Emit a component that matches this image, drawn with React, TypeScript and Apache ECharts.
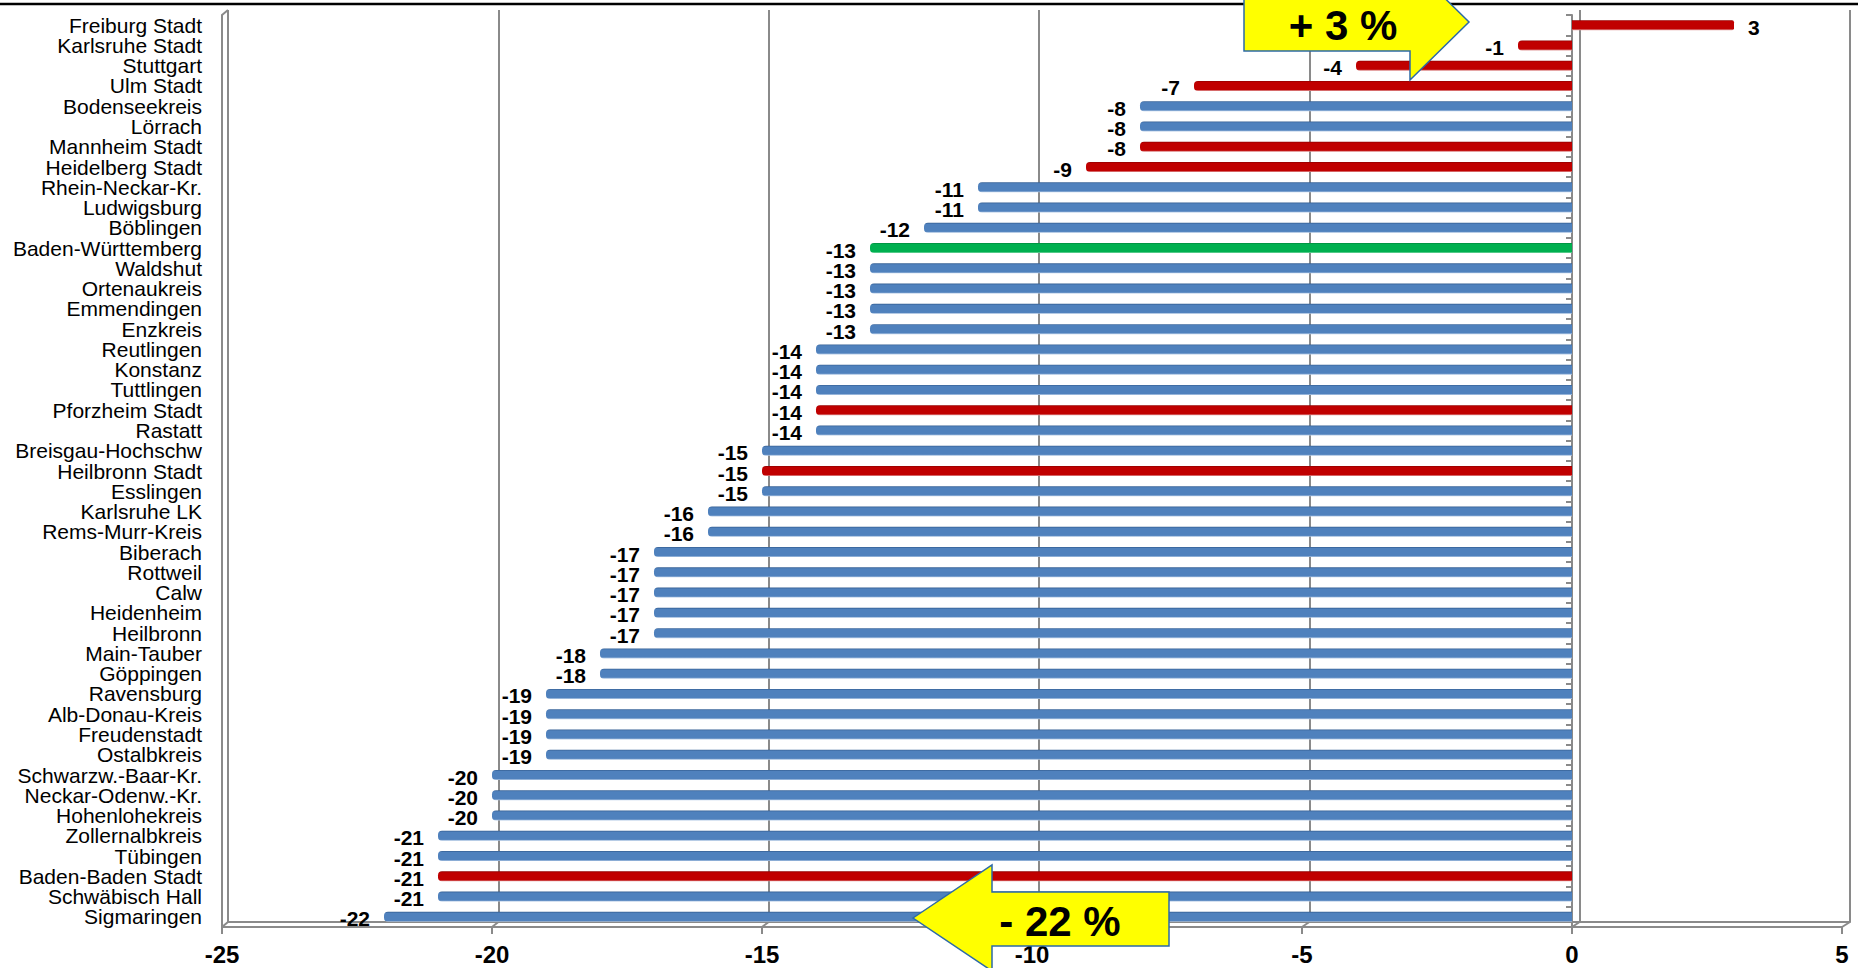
import React, { useEffect, useRef } from "react";
import * as echarts from "echarts";

// Districts (top to bottom) and their change in percent
const districts = [
  "Freiburg Stadt", "Karlsruhe Stadt", "Stuttgart", "Ulm Stadt", "Bodenseekreis",
  "Lörrach", "Mannheim Stadt", "Heidelberg Stadt", "Rhein-Neckar-Kr.", "Ludwigsburg",
  "Böblingen", "Baden-Württemberg", "Waldshut", "Ortenaukreis", "Emmendingen",
  "Enzkreis", "Reutlingen", "Konstanz", "Tuttlingen", "Pforzheim Stadt",
  "Rastatt", "Breisgau-Hochschw", "Heilbronn Stadt", "Esslingen", "Karlsruhe LK",
  "Rems-Murr-Kreis", "Biberach", "Rottweil", "Calw", "Heidenheim",
  "Heilbronn", "Main-Tauber", "Göppingen", "Ravensburg", "Alb-Donau-Kreis",
  "Freudenstadt", "Ostalbkreis", "Schwarzw.-Baar-Kr.", "Neckar-Odenw.-Kr.", "Hohenlohekreis",
  "Zollernalbkreis", "Tübingen", "Baden-Baden Stadt", "Schwäbisch Hall", "Sigmaringen",
];

const changes = [
  3, -1, -4, -7, -8,
  -8, -8, -9, -11, -11,
  -12, -13, -13, -13, -13,
  -13, -14, -14, -14, -14,
  -14, -15, -15, -15, -16,
  -16, -17, -17, -17, -17,
  -17, -18, -18, -19, -19,
  -19, -19, -20, -20, -20,
  -21, -21, -21, -21, -22,
];

// Urban districts (Stadtkreise) are highlighted in red, the state total in green
const cityDistricts = [
  "Freiburg Stadt", "Karlsruhe Stadt", "Stuttgart", "Ulm Stadt", "Mannheim Stadt",
  "Heidelberg Stadt", "Pforzheim Stadt", "Heilbronn Stadt", "Baden-Baden Stadt",
];
const stateTotal = "Baden-Württemberg";

const axisMin = -25;
const axisMax = 5;
const axisStep = 5;

const maxCallout = "+ 3 %";
const minCallout = "- 22 %";

const FONT = "'Liberation Sans', Arial, Helvetica, sans-serif";
const GRAY = "#8a8a8a";

// front plane and (slightly shifted) back wall of the pseudo-3D frame
const FRONT = { left: 222, right: 16, top: 15, bottom: 41 };
const BACK = { left: 228, right: 8, top: 10, bottom: 46 };
const W = 1858;
const H = 968;

function barFill(name: string) {
  let stops;
  if (name === stateTotal) {
    stops = ["#008A3E", "#00B050", "#00B050", "#8ADBAE"];
  } else if (cityDistricts.includes(name)) {
    stops = ["#8E0000", "#C00000", "#C00000", "#E09A9A"];
  } else {
    stops = ["#355F93", "#4F81BD", "#4F81BD", "#B5CBE6"];
  }
  return new echarts.graphic.LinearGradient(0, 0, 0, 1, [
    { offset: 0, color: stops[0] },
    { offset: 0.14, color: stops[1] },
    { offset: 0.86, color: stops[2] },
    { offset: 1, color: stops[3] },
  ]);
}

export default function App() {
  const ref = useRef<HTMLDivElement>(null);

  useEffect(() => {
    document.body.style.margin = "0";
    if (!ref.current) return;
    const chart = echarts.init(ref.current, undefined, { renderer: "svg" });

    const barData = changes.map((v, i) => ({
      value: v,
      itemStyle: {
        color: barFill(districts[i]),
        borderRadius: v < 0 ? [4, 0, 0, 4] : [0, 2, 2, 0],
      },
      label: { position: v < 0 ? "left" : "right" },
    }));

    const lineStyle = { color: GRAY, width: 2 };

    chart.setOption({
      animation: false,
      grid: [
        { ...FRONT, containLabel: false, outerBoundsMode: "none" },
        { ...BACK, containLabel: false, outerBoundsMode: "none" },
      ],
      xAxis: [
        {
          gridIndex: 0,
          type: "value",
          min: axisMin,
          max: axisMax,
          interval: axisStep,
          axisLine: { show: true, onZero: false, lineStyle },
          axisTick: { show: true, length: 7, lineStyle },
          axisLabel: {
            fontFamily: FONT,
            fontSize: 24,
            lineHeight: 16,
            fontWeight: "bold",
            color: "#000",
            margin: 19,
          },
          splitLine: { show: false },
        },
        {
          gridIndex: 1,
          type: "value",
          min: axisMin,
          max: axisMax,
          interval: axisStep,
          axisLine: { show: true, onZero: false, lineStyle },
          axisTick: { show: false },
          axisLabel: { show: false },
          splitLine: { show: true, lineStyle },
        },
      ],
      yAxis: [
        {
          gridIndex: 0,
          type: "category",
          inverse: true,
          data: districts,
          position: "left",
          axisLine: { show: true, onZero: false, lineStyle },
          axisTick: { show: false },
          axisLabel: {
            fontFamily: FONT,
            fontSize: 21,
            lineHeight: 19,
            color: "#000",
            margin: 20,
            padding: [6, 0, 0, 0],
            interval: 0,
          },
        },
        {
          // zero line with category ticks
          gridIndex: 0,
          type: "category",
          inverse: true,
          data: districts,
          position: "right",
          axisLine: { show: true, onZero: true, lineStyle },
          axisTick: { show: true, inside: true, length: 6, lineStyle, interval: 0 },
          axisLabel: { show: false },
        },
        {
          gridIndex: 1,
          type: "category",
          inverse: true,
          data: districts,
          show: false,
        },
      ],
      series: [
        {
          type: "bar",
          xAxisIndex: 0,
          yAxisIndex: 0,
          barWidth: 10,
          data: barData,
          label: {
            show: true,
            distance: 14,
            offset: [0, 2],
            fontFamily: FONT,
            fontSize: 21,
            lineHeight: 19,
            fontWeight: "bold",
            color: "#000",
            formatter: "{c}",
          },
          z: 3,
        },
      ],
    });

    // connectors between front and back plane, top rule and the two callouts
    const ticks: number[] = [];
    for (let v = axisMin; v <= axisMax; v += axisStep) ticks.push(v);
    const frontFloor = H - FRONT.bottom;
    const backFloor = H - BACK.bottom;
    const connectors: any[] = ticks.map((v) => {
      const xf = chart.convertToPixel({ xAxisIndex: 0 }, v) as number;
      const xb = chart.convertToPixel({ xAxisIndex: 1 }, v) as number;
      return {
        type: "line",
        shape: { x1: xf, y1: frontFloor, x2: xb, y2: backFloor },
        style: { stroke: GRAY, lineWidth: 2 },
        silent: true,
        z: 1,
      };
    });
    const xLeftFront = chart.convertToPixel({ xAxisIndex: 0 }, axisMin) as number;
    const xLeftBack = chart.convertToPixel({ xAxisIndex: 1 }, axisMin) as number;
    connectors.push({
      type: "line",
      shape: { x1: xLeftFront, y1: FRONT.top, x2: xLeftBack, y2: BACK.top },
      style: { stroke: GRAY, lineWidth: 2 },
      silent: true,
      z: 1,
    });

    const calloutStyle = { fill: "#FFFF00", stroke: "#2C6AA6", lineWidth: 1.5 };
    const calloutText = {
      fontFamily: FONT,
      fontSize: 42,
      fontWeight: "bold",
      fill: "#000",
      align: "center",
      verticalAlign: "middle",
    };

    chart.setOption({
      graphic: [
        ...connectors,
        {
          type: "line",
          shape: { x1: 0, y1: 4, x2: W, y2: 4 },
          style: { stroke: "#000", lineWidth: 2.5 },
          silent: true,
          z: 50,
        },
        {
          type: "polygon",
          z: 100,
          shape: {
            points: [
              [1244, -7], [1410, -7], [1410, -36], [1469, 22],
              [1410, 80], [1410, 51], [1244, 51],
            ],
          },
          style: calloutStyle,
        },
        {
          type: "text",
          z: 101,
          x: 1343,
          y: 25,
          style: { ...calloutText, text: maxCallout },
        },
        {
          type: "polygon",
          z: 100,
          shape: {
            points: [
              [913, 918], [992, 865], [992, 892], [1169, 892],
              [1169, 946], [992, 946], [992, 971],
            ],
          },
          style: calloutStyle,
        },
        {
          type: "text",
          z: 101,
          x: 1060,
          y: 921,
          style: { ...calloutText, text: minCallout },
        },
      ],
    });

    return () => chart.dispose();
  }, []);

  return <div ref={ref} style={{ width: W, height: H, background: "#fff" }} />;
}
